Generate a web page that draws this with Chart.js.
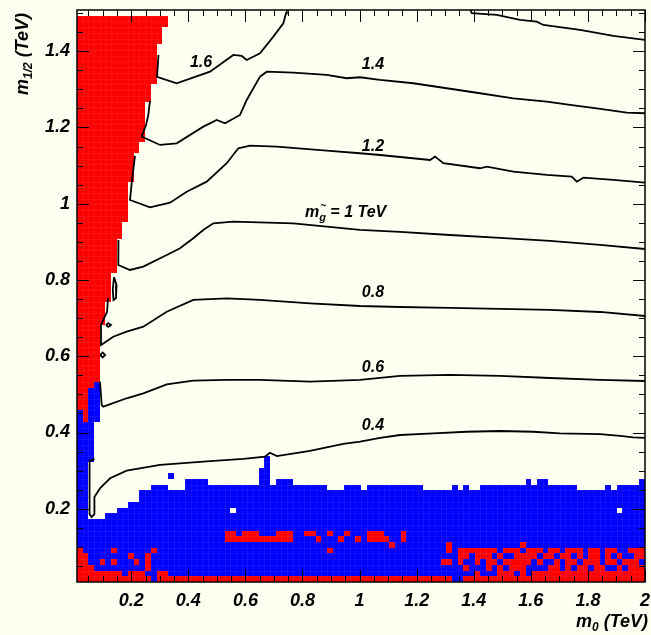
<!DOCTYPE html>
<html>
<head>
<meta charset="utf-8">
<script src="https://cdn.jsdelivr.net/npm/chart.js@4.4.1/dist/chart.umd.min.js"></script>
<style>
html,body{margin:0;padding:0;background:#fffff2;overflow:hidden;}
canvas{display:block;}
</style>
</head>
<body>
<canvas id="c" width="651" height="635"></canvas>
<script>
// ---------- axis ranges (TeV) ----------
const xRange = [0.01, 2.0];
const yRange = [0.008, 1.508];
// histogram binning of the coloured cells
const cellX0 = 0.01, cellDX = 0.0199, nCols = 100;
const cellY0 = 0.008, cellDY = 0.015, nRows = 100;

const xTickLabels = [0.2,0.4,0.6,0.8,1,1.2,1.4,1.6,1.8,2];
const yTickLabels = [0.2,0.4,0.6,0.8,1,1.2,1.4];

// top row index of the main blue band, per column
const blueTop = [10,10,10,10,10,11,11,12,12,13, 13,15,15,16,16,16,15,15,15,17,
                 17,17,17,16,16,16,16,16,16,16, 16,16,19,21,16,17,17,17,16,16,
                 16,16,16,16,15,15,15,16,16,16, 15,16,16,16,16,16,16,16,16,16,
                 16,15,15,15,15,15,16,15,16,15, 15,16,16,16,16,16,16,16,16,17,
                 17,17,17,16,16,16,16,16,15,15, 15,15,15,16,15,16,16,16,16,17];
// extra blue blocks [col0,col1,row0,row1]
const blueExtra = [[0,1,11,27],[2,2,21,27],[0,0,28,29],[2,3,28,33],[3,3,34,34],[16,16,18,18]];
// red wedge at small m0: [row0,row1,number of columns from m0=0]
const redLeftRuns = [[97,98,16],[94,96,15],[87,93,14],[84,86,13],[77,83,12],[75,76,11],[70,74,10],
                     [63,69,9],[60,62,8],[54,59,7],[49,53,6],[45,48,5],[35,44,4],[34,34,3],[30,33,2]];
const redExtra = [[1,1,28,29]];
// bottom row is red except these columns
const redBottomGaps = [13,66,67];
// red cells inside the blue band: [row, [[col0,col1],...]]
const redSpeckles = [
 [1, [[0,7],[9,11],[14,15],[70,70],[74,76],[78,78],[80,99]]],
 [2, [[0,2],[12,12],[68,68],[72,72],[74,74],[76,78],[83,84],[86,86],[88,89],[91,92],[95,95],[97,99]]],
 [3, [[0,1],[4,4],[6,6],[10,10],[12,12],[64,65],[67,67],[70,70],[72,73],[75,79],[81,81],[84,84],[86,87],[89,91],[93,94],[96,98]]],
 [4, [[0,1],[9,9],[12,12],[67,68],[70,72],[74,74],[77,80],[82,83],[85,86],[88,88],[90,91],[93,93],[95,95],[98,99]]],
 [5, [[0,0],[6,6],[13,13],[44,44],[65,65],[67,73],[75,77],[79,81],[83,84],[86,88],[90,91],[93,94],[97,99]]],
 [6, [[55,55],[65,65],[78,78]]],
 [7, [[26,37],[42,42],[46,46],[49,49],[51,54],[57,57]]],
 [8, [[26,27],[29,31],[35,37],[40,41],[44,44],[47,47],[51,53],[57,57]]]
];
const emptyCells = [[27,12],[95,12],[80,17]];

// ---------- gluino mass contours (m0, m1/2) in TeV ----------
const contour04 = [[0.071,0.331],[0.054,0.325],[0.054,0.186],[0.061,0.1785],[0.071,0.186],[0.071,0.231],[0.091,0.254],[0.126,0.280],[0.184,0.300],[0.301,0.315],[0.476,0.325],[0.593,0.331],[0.669,0.337],[0.686,0.347],[0.710,0.338],[0.826,0.352],[0.943,0.370],[1.002,0.376],[1.072,0.386],[1.142,0.3935],[1.258,0.398],[1.375,0.402],[1.492,0.404],[1.609,0.402],[1.702,0.398],[1.843,0.396],[1.913,0.391],[1.959,0.3875],[2.0,0.386]];
const contour06 = [[0.0906,0.5333],[0.0965,0.4722],[0.102,0.4677],[0.184,0.4898],[0.2423,0.5029],[0.3243,0.526],[0.4175,0.5359],[0.5345,0.5378],[0.6512,0.5378],[0.8264,0.5333],[1.0016,0.5378],[1.1417,0.5483],[1.3169,0.5509],[1.4921,0.5483],[1.6673,0.543],[1.8425,0.5378],[2.0,0.5351]];
const contour08 = [[0.1186,0.7528],[0.1151,0.7161],[0.0941,0.682],[0.0941,0.6296],[0.137,0.6513],[0.184,0.6644],[0.2423,0.6776],[0.3243,0.7169],[0.4175,0.7476],[0.5345,0.752],[0.6512,0.7476],[0.8264,0.7389],[1.0016,0.7318],[1.1417,0.7292],[1.3169,0.7266],[1.4921,0.724],[1.6673,0.7214],[1.8425,0.7161],[2.0,0.7056]];
const contour10 = [[0.1554,0.9049],[0.1547,0.8394],[0.1957,0.8263],[0.2423,0.8349],[0.3243,0.8656],[0.3709,0.8832],[0.4175,0.9094],[0.4525,0.9312],[0.4876,0.9487],[0.5577,0.9529],[0.7679,0.9487],[1.0016,0.9312],[1.1417,0.9259],[1.3169,0.918],[1.4921,0.9102],[1.6673,0.9023],[1.8425,0.8918],[2.0,0.8813]];
const contour12 = [[0.2132,1.1252],[0.2027,1.0623],[0.1957,1.0098],[0.2658,0.9907],[0.3359,1.0028],[0.3944,1.0316],[0.4645,1.0578],[0.5345,1.1061],[0.5752,1.1454],[0.6162,1.1522],[0.7097,1.1496],[0.8849,1.1391],[1.0016,1.1323],[1.0717,1.1278],[1.2469,1.1147],[1.2644,1.1234],[1.2935,1.1061],[1.422,1.093],[1.4455,1.0972],[1.5387,1.0841],[1.6558,1.0754],[1.7433,1.071],[1.7609,1.0578],[1.784,1.0683],[1.8891,1.0623],[2.0,1.0552]];
const contour14 = [[0.2658,1.2695],[0.2598,1.2328],[0.2518,1.2065],[0.2367,1.1759],[0.3008,1.1541],[0.3593,1.1585],[0.4525,1.2021],[0.4995,1.2196],[0.5286,1.211],[0.5811,1.2328],[0.6046,1.2721],[0.6512,1.3332],[0.6747,1.3463],[0.7679,1.3437],[0.8849,1.3377],[0.955,1.329],[1.0016,1.3316],[1.0717,1.3246],[1.1884,1.3159],[1.3054,1.3028],[1.422,1.2897],[1.5387,1.2765],[1.6558,1.2676],[1.7374,1.259],[1.8309,1.2503],[1.9361,1.2388],[2.0,1.2372]];
const contour16a = [[0.2955,1.3901],[0.2903,1.3324],[0.3593,1.3159],[0.476,1.3463],[0.5577,1.3901],[0.587,1.3875],[0.6046,1.377],[0.6512,1.3945],[0.6978,1.4381],[0.733,1.4732],[0.7423,1.4995],[0.745,1.515]];
const contour16b = [[1.385,1.515],[1.393,1.4995],[1.4806,1.495],[1.5622,1.4819],[1.6207,1.4774],[1.6439,1.4688],[1.7724,1.4557],[1.8891,1.44],[2.0,1.4295]];
const islandA = [[0.1116,0.682],[0.1197,0.687],[0.1291,0.682],[0.1197,0.6768],[0.1116,0.682]];
const islandB = [[0.0913,0.6033],[0.1,0.6099],[0.1088,0.6033],[0.1,0.5968],[0.0913,0.6033]];
const islandC = [[0.1396,0.8079],[0.1484,0.7869],[0.1467,0.7528],[0.1379,0.7476],[0.1354,0.7738],[0.1396,0.8079]];

const contourLabelText = ['1.6','1.4','1.2','GLUINO','0.8','0.6','0.4'];
const contourLabelX = [0.4445,1.047,1.047,0.951,1.047,1.047,1.047];
const contourLabelY = [1.3573,1.352,1.137,0.9653,0.7541,0.5574,0.4053];

// ---------- helpers ----------
const FAM = '"Liberation Sans", Arial, Helvetica, sans-serif';
const BLUE = '#0000ff', RED = '#ff0000', BG = '#fffff2';

function buildGrid(){
  const g = Array.from({length:nRows},()=>new Array(nCols).fill(0));
  blueTop.forEach((t,c)=>{ for(let r=0;r<=t;r++) g[r][c]=1; });
  blueExtra.forEach(([c0,c1,r0,r1])=>{ for(let r=r0;r<=r1;r++) for(let c=c0;c<=c1;c++) g[r][c]=1; });
  redLeftRuns.forEach(([r0,r1,n])=>{ for(let r=r0;r<=r1;r++) for(let c=0;c<n;c++) g[r][c]=2; });
  redExtra.forEach(([c0,c1,r0,r1])=>{ for(let r=r0;r<=r1;r++) for(let c=c0;c<=c1;c++) g[r][c]=2; });
  for(let c=0;c<nCols;c++) if(!redBottomGaps.includes(c)) g[0][c]=2;
  redSpeckles.forEach(([r,ranges])=>ranges.forEach(([a,b])=>{ for(let c=a;c<=b;c++) g[r][c]=2; }));
  emptyCells.forEach(([c,r])=>{ g[r][c]=0; });
  return g;
}

function drawRich(ctx, parts, x, y, align){
  let w = 0;
  const ws = parts.map(p=>{ ctx.font = `italic bold ${p[1]}px ${FAM}`; const m = ctx.measureText(p[0]).width; w += m; return m; });
  let cx = align==='right' ? x-w : (align==='center' ? x-w/2 : x);
  const pos = [];
  parts.forEach((p,i)=>{ ctx.font = `italic bold ${p[1]}px ${FAM}`; ctx.fillText(p[0], cx, y+(p[2]||0)); pos.push([cx, ws[i]]); cx += ws[i]; });
  return pos;
}

const bgPlugin = {
  id:'bg',
  beforeDraw(chart){ const c=chart.ctx; c.save(); c.fillStyle=BG; c.fillRect(0,0,chart.width,chart.height); c.restore(); }
};

const cellPlugin = {
  id:'cells',
  beforeDatasetsDraw(chart){
    const {ctx, chartArea:a, scales:{x, y}} = chart;
    const g = buildGrid();
    ctx.save();
    ctx.beginPath(); ctx.rect(a.left, a.top, a.right-a.left, a.bottom-a.top); ctx.clip();
    for(let r=0;r<nRows;r++) for(let c=0;c<nCols;c++){
      const v = g[r][c]; if(!v) continue;
      const x0 = Math.round(x.getPixelForValue(cellX0 + c*cellDX));
      const x1 = Math.round(x.getPixelForValue(cellX0 + (c+1)*cellDX));
      const yb = Math.round(y.getPixelForValue(cellY0 + r*cellDY));
      const yt = Math.round(y.getPixelForValue(cellY0 + (r+1)*cellDY));
      ctx.fillStyle = v===1 ? BLUE : RED;
      ctx.fillRect(x0, yt, x1-x0, yb-yt);
      ctx.fillStyle = 'rgba(255,255,255,0.06)';
      ctx.fillRect(x0, yt, x1-x0, 1);
      ctx.fillRect(x0, yt, 1, yb-yt);
    }
    ctx.restore();
  }
};

const framePlugin = {
  id:'frame',
  afterDatasetsDraw(chart){
    const {ctx, chartArea:a, scales:{x, y}} = chart;
    ctx.save();
    ctx.strokeStyle = '#000'; ctx.lineWidth = 1;
    ctx.beginPath();
    for(let k=1;k<=40;k++){
      const v = k*0.05; if(v < xRange[0] || v > xRange[1]+1e-9) continue;
      const px = Math.round(x.getPixelForValue(v))+0.5;
      const L = (k%4===0) ? 12 : 6;
      ctx.moveTo(px, a.bottom); ctx.lineTo(px, a.bottom-L);
      ctx.moveTo(px, a.top); ctx.lineTo(px, a.top+L);
    }
    for(let k=1;k<=30;k++){
      const v = k*0.05; if(v < yRange[0] || v > yRange[1]) continue;
      const py = Math.round(y.getPixelForValue(v))+0.5;
      const L = (k%4===0) ? 12 : 6;
      ctx.moveTo(a.left, py); ctx.lineTo(a.left+L, py);
      ctx.moveTo(a.right, py); ctx.lineTo(a.right-L, py);
    }
    ctx.stroke();
    ctx.lineWidth = 1.5;
    ctx.strokeRect(a.left, a.top, a.right-a.left, a.bottom-a.top);

    // contour labels
    ctx.fillStyle = '#000';
    ctx.textBaseline = 'alphabetic';
    contourLabelText.forEach((t,i)=>{
      const px = x.getPixelForValue(contourLabelX[i]);
      const py = y.getPixelForValue(contourLabelY[i]);
      if(t==='GLUINO'){
        const pos = drawRich(ctx, [['m',16,0],['g',11,4],[' = 1 TeV',16,0]], px, py, 'center');
        ctx.font = `bold 10px ${FAM}`; ctx.textAlign='center';
        ctx.fillText('~', pos[1][0]+pos[1][1]/2+1, py-8);
        ctx.textAlign='left';
      } else {
        drawRich(ctx, [[t,16,0]], px, py, 'center');
      }
    });
    ctx.restore();
  },
  afterDraw(chart){
    const ctx = chart.ctx;
    ctx.save();
    ctx.fillStyle = '#000'; ctx.textBaseline = 'alphabetic'; ctx.textAlign='left';
    drawRich(ctx, [['m',18,0],['0',12,4],[' (TeV)',18,0]], 648, 627, 'right');
    ctx.translate(28, 13); ctx.rotate(-Math.PI/2);
    drawRich(ctx, [['m',18,0],['1/2',12,4],[' (TeV)',18,0]], 0, 0, 'right');
    ctx.restore();
  }
};

function fmt(v){ return Math.abs(v-Math.round(v))<1e-9 ? String(Math.round(v)) : v.toFixed(1); }
const tickFont = {family:FAM, size:18, style:'italic', weight:'bold'};

const lineSets = [contour04,contour06,contour08,contour10,contour12,contour14,contour16a,contour16b,islandA,islandB,islandC];

new Chart(document.getElementById('c'), {
  type:'scatter',
  data:{ datasets: lineSets.map(d=>({
    data: d.map(([px,py])=>({x:px, y:py})),
    showLine:true, borderColor:'#000', borderWidth:1.8, pointRadius:0, fill:false, tension:0
  }))},
  options:{
    responsive:false, animation:false, devicePixelRatio:1,
    layout:{padding:{top:10, right:6, left:0, bottom:0}},
    plugins:{legend:{display:false}, tooltip:{enabled:false}},
    scales:{
      x:{type:'linear', min:xRange[0], max:xRange[1],
         afterBuildTicks:s=>{ s.ticks = xTickLabels.map(v=>({value:v})); },
         afterFit:s=>{ s.height = 53; s.paddingLeft = 0; s.paddingRight = 0; },
         grid:{display:false, drawTicks:false}, border:{display:false},
         ticks:{autoSkip:false, maxRotation:0, padding:8, color:'#000', font:tickFont, callback:v=>fmt(v)}},
      y:{type:'linear', min:yRange[0], max:yRange[1],
         afterBuildTicks:s=>{ s.ticks = yTickLabels.map(v=>({value:v})); },
         afterFit:s=>{ s.width = 77; s.paddingTop = 0; s.paddingBottom = 0; },
         grid:{display:false, drawTicks:false}, border:{display:false},
         ticks:{autoSkip:false, padding:7, color:'#000', font:tickFont, callback:v=>fmt(v)}}
    }
  },
  plugins:[bgPlugin, cellPlugin, framePlugin]
});
</script>
</body>
</html>
